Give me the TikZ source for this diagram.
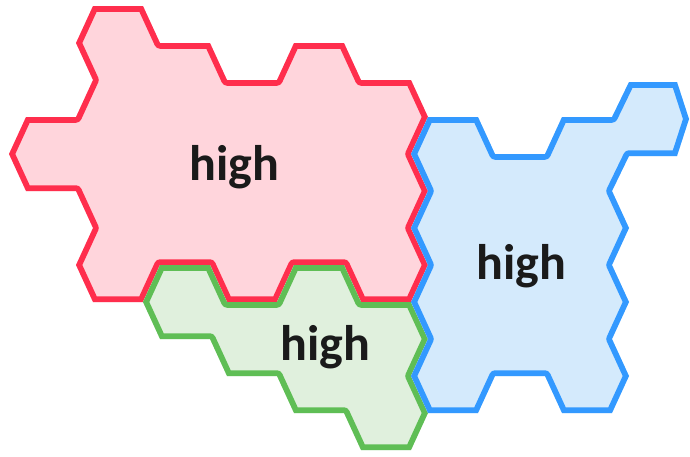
\documentclass[tikz,border=0pt]{standalone}
\usepackage{fontspec}
\setmainfont{Carlito}
\definecolor{roseline}{HTML}{FF2E4D}
\definecolor{rosefill}{HTML}{FFD5DC}
\definecolor{leafline}{HTML}{5FBE55}
\definecolor{leaffill}{HTML}{E0F0DD}
\definecolor{skyline}{HTML}{3399FF}
\definecolor{skyfill}{HTML}{D4EAFC}
\definecolor{inkblack}{HTML}{1A1A1A}
\usetikzlibrary{positioning}

% outlines of the three hexagon clusters (pixel grid, y down)
\def\rosepath{(93,6) -- (143,6) -- (160,43) -- (210,43) -- (227,80) -- (277,80)
  -- (294,43) -- (344,43) -- (361,80) -- (411,80) -- (428,117) -- (411,154)
  -- (428,191) -- (411,228) -- (428,265) -- (411,302) -- (361,302) -- (344,265)
  -- (294,265) -- (277,302) -- (227,302) -- (210,265) -- (160,265) -- (143,302)
  -- (93,302) -- (76,265) -- (93,228) -- (76,191) -- (26,191) -- (9,154)
  -- (26,117) -- (76,117) -- (93,80) -- (76,43) -- cycle}
\def\leafpath{(160,265) -- (210,265) -- (227,302) -- (277,302) -- (294,265)
  -- (344,265) -- (361,302) -- (411,302) -- (428,339) -- (411,376) -- (428,413)
  -- (411,450) -- (361,450) -- (344,413) -- (294,413) -- (277,376) -- (227,376)
  -- (210,339) -- (160,339) -- (143,302) -- cycle}
\def\skypath{(428,117) -- (478,117) -- (495,154) -- (545,154) -- (562,117)
  -- (612,117) -- (629,82) -- (677,82) -- (689,119) -- (677,156) -- (629,156)
  -- (612,191) -- (629,228) -- (612,265) -- (629,302) -- (612,339) -- (629,376)
  -- (612,413) -- (562,413) -- (545,376) -- (495,376) -- (478,413) -- (428,413)
  -- (411,376) -- (428,339) -- (411,302) -- (428,265) -- (411,228) -- (428,191)
  -- (411,154) -- cycle}

\tikzset{
  rim/.style={line width=11.5pt, line join=round},
  tag/.style={text=inkblack, anchor=base, font=\bfseries\fontsize{50}{58}\selectfont}
}

\begin{document}
\begin{tikzpicture}[x=1pt, y=-1pt]
  \useasboundingbox (0,0) rectangle (690,456);

  % red cluster
  \fill[rosefill] \rosepath;
  \begin{scope}
    \clip \rosepath;
    \draw[rim, roseline] \rosepath;
  \end{scope}

  % green cluster
  \fill[leaffill] \leafpath;
  \begin{scope}
    \clip \leafpath;
    \draw[rim, leafline] \leafpath;
  \end{scope}

  % blue cluster
  \fill[skyfill] \skypath;
  \begin{scope}
    \clip \skypath;
    \draw[rim, skyline] \skypath;
  \end{scope}

  \node[tag] (rosetag) at (234,180) {high};
  \node[tag] (leaftag) at (325,360) {high};
  \node[tag] (skytag) at (521,279) {high};
\end{tikzpicture}
\end{document}
